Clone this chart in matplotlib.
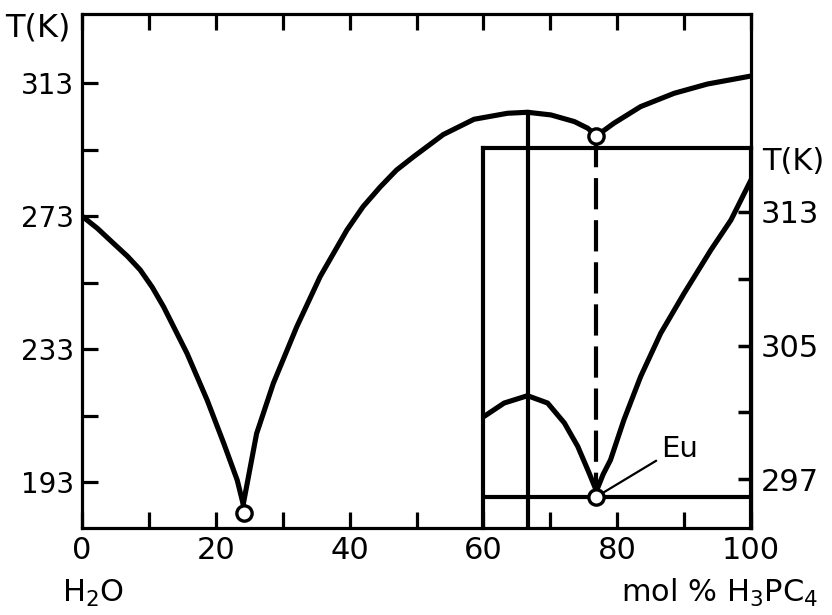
import matplotlib.pyplot as plt
import numpy as np

plt.rcParams['font.family'] = ['DejaVu Sans']
plt.rcParams['mathtext.default'] = 'regular'

# liquidus of ice (main diagram, mol % H3PO4 vs T in K)
x_ice = [0, 2.3, 4.7, 6.8, 8.7, 10.5, 12.2, 15.7, 18.7, 21.2, 23.2, 24.1]
t_ice = [273, 269.3, 264.8, 260.9, 256.8, 251.6, 245.7, 231.7, 217.7, 204.6, 193.6, 186.3]

# liquidus of the hemihydrate
x_hemi = [24.1, 26.1, 28.6, 32.1, 35.6, 39.6, 42.0, 44.6, 47.0, 49.6, 54.0, 58.6,
          63.6, 66.6, 70.1, 73.6, 75.6, 76.9]
t_hemi = [186.3, 207.6, 222.7, 239.7, 254.8, 268.8, 275.8, 281.8, 286.8, 290.9, 297.5, 302.1,
          303.9, 304.2, 303.4, 301.4, 299.4, 297.1]

# liquidus of H3PO4
x_acid = [76.9, 79.5, 83.5, 88.5, 93.5, 100]
t_acid = [297.1, 300.9, 305.9, 309.9, 312.7, 315.1]

eut_low = (24.2, 183.7)
eut_high = (76.9, 297.1)
x_compound = 66.6

# enlarged part (inset)
xi_hemi = [60.1, 63.1, 66.6, 69.6, 72.1, 74.1, 75.8, 76.9]
ti_hemi = [300.76, 301.56, 302.0, 301.56, 300.37, 298.97, 297.38, 296.3]
xi_acid = [76.9, 77.9, 79.0, 81.0, 83.5, 86.5, 90.0, 94.0, 97.0, 100]
ti_acid = [296.3, 297.3, 298.16, 300.55, 303.14, 305.73, 308.12, 310.71, 312.5, 314.9]
eu_pt = (76.9, 295.96)

main_yticks = [193, 233, 273, 313]
main_yminor = [213, 253, 293]
main_xticks = [0, 20, 40, 60, 80, 100]
main_xminor = [10, 30, 50, 70, 90]
in_yticks = [297, 305, 313]
in_yminor = [301, 309]

W, H = 832, 615
fig = plt.figure(figsize=(W / 100, H / 100), dpi=100)

L, R, B, T = 82, 751, 528, 14
ax = fig.add_axes([L / W, 1 - B / H, (R - L) / W, (B - T) / H])
ax.set_xlim(0, 100)
ax.set_ylim(179.2, 333.75)

lw_curve = 3.7
for xs, ts in [(x_ice, t_ice), (x_hemi, t_hemi), (x_acid, t_acid)]:
    ax.plot(xs, ts, color='k', lw=lw_curve, solid_joinstyle='round',
            solid_capstyle='round', zorder=3)

ax.plot(*eut_low, 'o', ms=11, mfc='white', mec='k', mew=2.4, zorder=5, clip_on=False)
ax.plot(*eut_high, 'o', ms=11, mfc='white', mec='k', mew=2.4, zorder=5)

for s in ax.spines.values():
    s.set_linewidth(2.3)

ax.set_xticks(main_xticks)
ax.set_xticks(main_xminor, minor=True)
ax.set_yticks(main_yticks)
ax.set_yticks(main_yminor, minor=True)
ax.tick_params(which='both', direction='in', length=11.5, width=2.3,
               top=True, right=False, labelsize=22, pad=6)
ax.tick_params(axis='y', labelsize=20)

# inset with its own temperature scale
xl = L + (R - L) * 60 / 100
IT = 148.3
ax_in = fig.add_axes([xl / W, 1 - B / H, (R - xl) / W, (B - IT) / H])
ax_in.set_facecolor('none')
ax_in.set_xlim(60, 100)
ax_in.set_ylim(294.09, 316.79)
ax_in.spines['bottom'].set_visible(False)
for s in ['top', 'left', 'right']:
    ax_in.spines[s].set_linewidth(3)
ax_in.set_xticks([])
ax_in.yaxis.tick_right()
ax_in.set_yticks(in_yticks)
ax_in.set_yticks(in_yminor, minor=True)
ax_in.tick_params(which='both', direction='in', length=9.5, width=2.5,
                  labelsize=22, pad=7, left=False)
ax_in.axhline(eu_pt[1], color='k', lw=3)

for xs, ts in [(xi_hemi, ti_hemi), (xi_acid, ti_acid)]:
    ax_in.plot(xs, ts, color='k', lw=lw_curve, solid_joinstyle='round',
               solid_capstyle='round', zorder=3)
ax_in.plot(*eu_pt, 'o', ms=11, mfc='white', mec='k', mew=2.4, zorder=6, clip_on=False)
ax_in.annotate('Eu', xy=eu_pt, xytext=(86.6, 298.8), fontsize=21,
               ha='left', va='center',
               arrowprops=dict(arrowstyle='-', lw=1.6, color='k',
                               shrinkA=2, shrinkB=6, relpos=(0, 0.2)))

# lines joining both scales
eu_main = ax.transData.inverted().transform(ax_in.transData.transform(eu_pt))
ax.plot([eut_high[0], eu_main[0]], [eut_high[1], eu_main[1]], color='k', lw=3,
        ls=(0, (7.5, 2.6)), zorder=2)
ax.plot([x_compound, x_compound], [max(t_hemi), 179.2], color='k',
        lw=3, zorder=2)

fig.text(5 / W, 1 - 28 / H, 'T(K)', fontsize=23, ha='left', va='center')
fig.text(762 / W, 1 - 162 / H, 'T(K)', fontsize=22, ha='left', va='center')
fig.text(62 / W, 1 - 593 / H, 'H$_2$O', fontsize=22, ha='left', va='center')
fig.text(818 / W, 1 - 593 / H, 'mol % H$_3$PC$_4$', fontsize=22, ha='right', va='center')

fig.savefig('out.png', dpi=100)
